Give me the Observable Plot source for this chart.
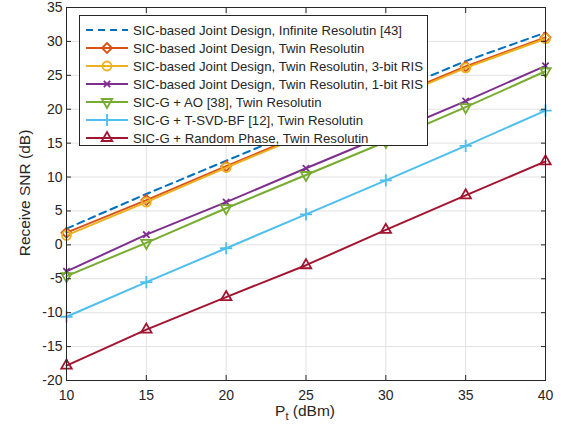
<!DOCTYPE html>
<html><head><meta charset="utf-8">
<script src="https://cdn.jsdelivr.net/npm/d3@7"></script>
<script src="https://cdn.jsdelivr.net/npm/@observablehq/plot@0.6"></script>
<style>
body{margin:0;background:#fff;font-family:"Liberation Sans",Arial,sans-serif;}
#wrap{position:relative;width:561px;height:429px;}
#legend{position:absolute;left:79px;top:15px;width:349px;height:131px;border:1px solid #262626;background:#fff;box-sizing:border-box;font-size:13.2px;color:#262626;}
.row{position:absolute;left:0;height:18px;display:flex;align-items:center;white-space:nowrap;}
.row svg{margin-left:5px;margin-right:4px;}
</style>
</head><body>
<div id="wrap"><div id="chart"></div><div id="legend"></div></div>
<script>
const pt = [10, 15, 20, 25, 30, 35, 40];
const infinite = [2.4, 7.5, 12.4, 17.3, 22.2, 27.1, 31.3];
const twin = [1.8, 6.6, 11.6, 16.5, 21.4, 26.3, 30.6];
const bit3 = [1.4, 6.3, 11.4, 16.3, 21.2, 26.1, 30.4];
const bit1 = [-3.9, 1.5, 6.3, 11.3, 16.2, 21.2, 26.4];
const ao = [-4.6, 0.3, 5.4, 10.3, 15.2, 20.3, 25.6];
const tsvd = [-10.6, -5.5, -0.5, 4.5, 9.5, 14.6, 19.8];
const rnd = [-17.8, -12.5, -7.7, -3.0, 2.2, 7.3, 12.3];
const names = [
  "SIC-based Joint Design, Infinite Resolutin [43]",
  "SIC-based Joint Design, Twin Resolutin",
  "SIC-based Joint Design, Twin Resolutin, 3-bit RIS",
  "SIC-based Joint Design, Twin Resolutin, 1-bit RIS",
  "SIC-G + AO [38], Twin Resolutin",
  "SIC-G + T-SVD-BF [12], Twin Resolutin",
  "SIC-G + Random Phase, Twin Resolutin"
];
const xTicks = [10, 15, 20, 25, 30, 35, 40];
const yTicks = [-20, -15, -10, -5, 0, 5, 10, 15, 20, 25, 30, 35];

const colors = ["#0072BD", "#D95319", "#EDB120", "#7E2F8E", "#77AC30", "#4DBEEE", "#A2142F"];
const symbols = [null, "diamond2", "circle", "times", "triangle2", "plus", "triangle2"];
const rotates = [0, 0, 0, 0, 180, 0, 0];
const sizes = [0, 4.5, 4.5, 3, 5, 4, 5];
const seriesVals = [infinite, twin, bit3, bit1, ao, tsvd, rnd];

const marks = [];
marks.push(Plot.gridX(xTicks, {stroke: "#e2e2e2", strokeOpacity: 1}));
marks.push(Plot.gridY(yTicks, {stroke: "#e2e2e2", strokeOpacity: 1}));
seriesVals.forEach((vals, i) => {
  const data = pt.map((x, j) => ({x, y: vals[j]}));
  marks.push(Plot.line(data, {x: "x", y: "y", stroke: colors[i], strokeWidth: 2,
    strokeDasharray: i === 0 ? "7,5" : null}));
  if (symbols[i]) {
    marks.push(Plot.dot(data, {x: "x", y: "y", stroke: colors[i], symbol: symbols[i],
      r: sizes[i], strokeWidth: 1.8, rotate: rotates[i], fill: "none"}));
  }
});
marks.push(Plot.frame({stroke: "#262626", strokeWidth: 1}));
marks.push(Plot.axisX(xTicks, {anchor: "bottom", tickSize: -5, tickPadding: 15, fontSize: 14, tickFormat: d => String(d), fill: "#262626", stroke: "#262626", label: null}));
marks.push(Plot.axisX(xTicks, {anchor: "top", tickSize: -5, tickFormat: () => "", stroke: "#262626", label: null}));
marks.push(Plot.axisY(yTicks, {anchor: "left", tickSize: -5, tickPadding: 9, fontSize: 14, tickFormat: d => String(d), fill: "#262626", stroke: "#262626", label: null}));
marks.push(Plot.axisY(yTicks, {anchor: "right", tickSize: -5, tickFormat: () => "", stroke: "#262626", label: null}));

const chart = Plot.plot({
  width: 561, height: 429,
  marginLeft: 66, marginRight: 16, marginTop: 7, marginBottom: 49,
  style: {fontFamily: "Liberation Sans, Arial, sans-serif", fontSize: "14px", color: "#262626", background: "#fff"},
  x: {domain: [10, 40]},
  y: {domain: [-20, 35]},
  marks
});
document.getElementById("chart").appendChild(chart);

// axis labels as text in the svg
const svg = d3.select(chart);
svg.append("text").attr("x", 305).attr("y", 416).attr("text-anchor", "middle")
  .attr("font-size", 15.5).attr("fill", "#262626")
  .html('P<tspan font-size="11" dy="4">t</tspan><tspan dy="-4"> (dBm)</tspan>');
svg.append("text").attr("transform", "translate(30,193) rotate(-90)").attr("text-anchor", "middle")
  .attr("font-size", 15.5).attr("fill", "#262626").text("Receive SNR (dB)");

// legend
const leg = document.getElementById("legend");
names.forEach((name, i) => {
  const row = document.createElement("div");
  row.className = "row";
  row.style.top = (5 + i * 18) + "px";
  const s = d3.create("svg").attr("width", 44).attr("height", 16);
  s.append("line").attr("x1", 1).attr("x2", 43).attr("y1", 8).attr("y2", 8)
    .attr("stroke", colors[i]).attr("stroke-width", 2)
    .attr("stroke-dasharray", i === 0 ? "7,5" : null);
  if (symbols[i]) {
    const symMap = {diamond2: d3.symbolDiamond2, circle: d3.symbolCircle, times: d3.symbolTimes, triangle2: d3.symbolTriangle2, plus: d3.symbolPlus};
    const area = Math.PI * sizes[i] * sizes[i];
    s.append("path").attr("d", d3.symbol(symMap[symbols[i]], area)())
      .attr("transform", `translate(22,8) rotate(${rotates[i]})`)
      .attr("fill", "none").attr("stroke", colors[i]).attr("stroke-width", 1.8);
  }
  row.appendChild(s.node());
  const t = document.createElement("span");
  t.textContent = name;
  row.appendChild(t);
  leg.appendChild(row);
});
</script>
</body></html>
